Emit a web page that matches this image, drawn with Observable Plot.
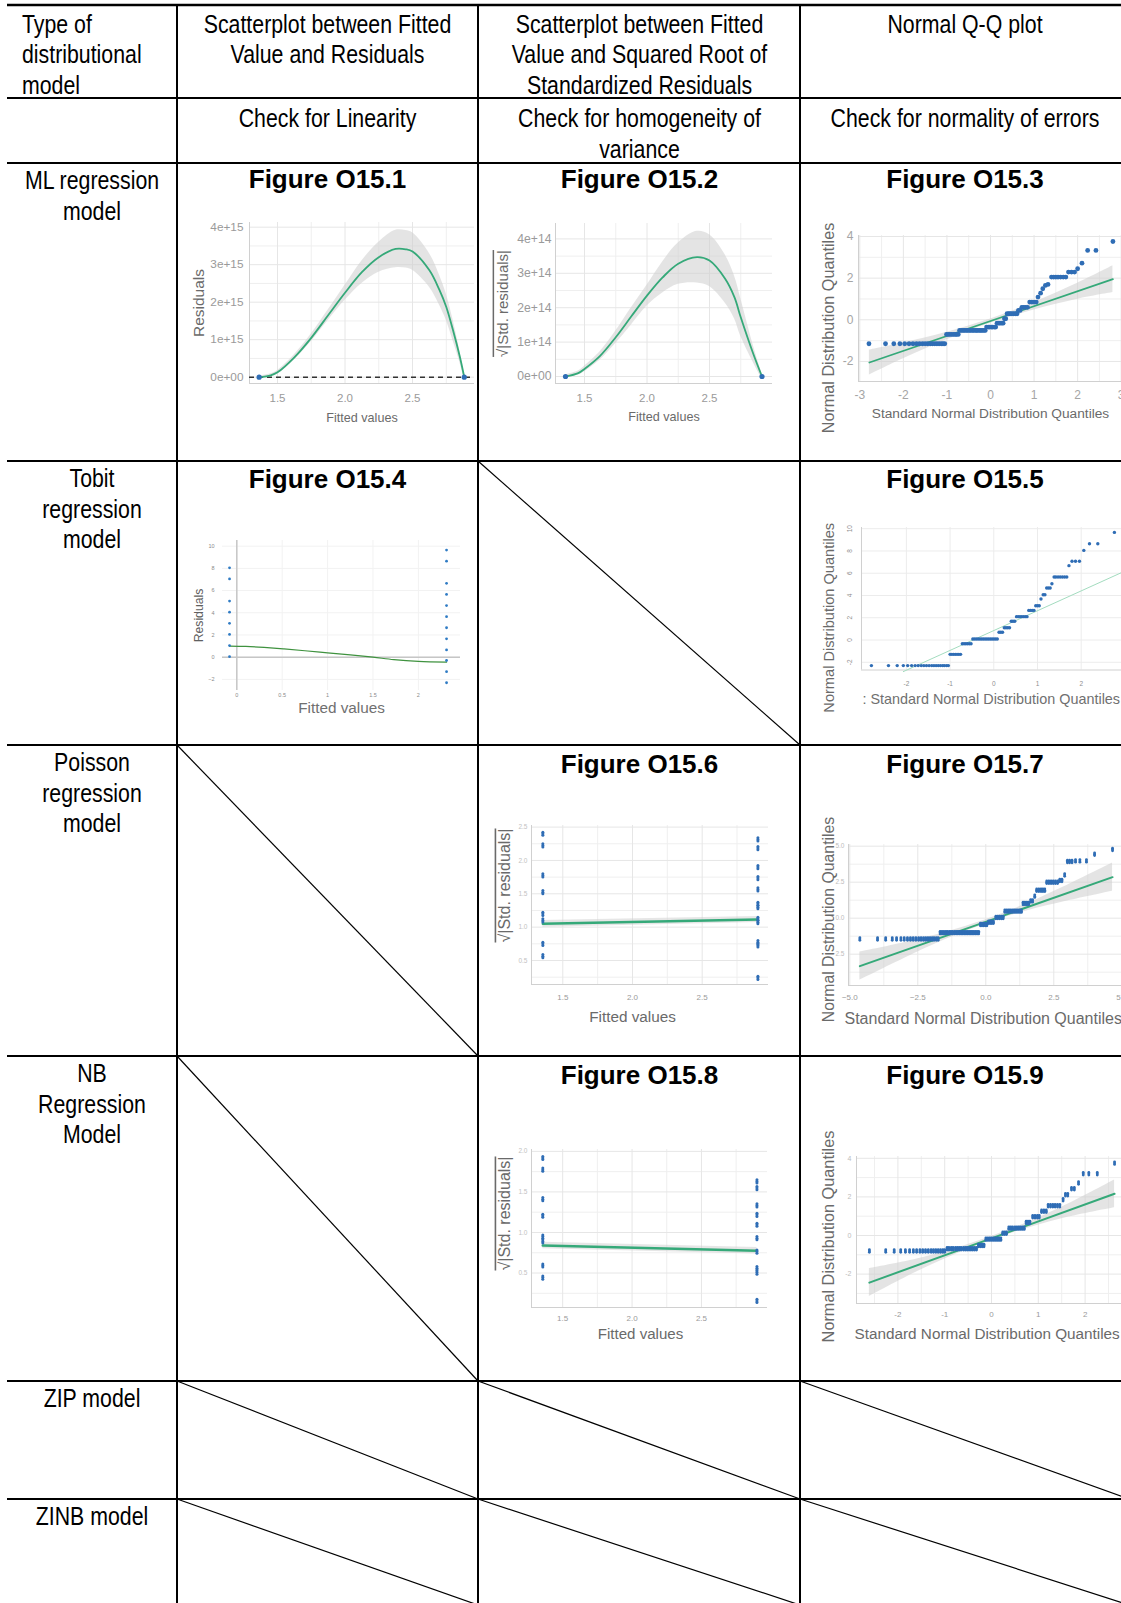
<!DOCTYPE html>
<html><head><meta charset="utf-8">
<script src="https://cdn.jsdelivr.net/npm/d3@7"></script>
<script src="https://cdn.jsdelivr.net/npm/@observablehq/plot@0.6"></script>
<style>
html,body{margin:0;padding:0;background:#fff;overflow:hidden;}
#page{position:relative;width:1121px;height:1603px;overflow:hidden;background:#fff;}
.fig{position:absolute;}
.fig svg{overflow:visible;}
</style></head><body><div id="page"></div>
<script>
// ================= DATA =================
const columnHeads = [["Type of","distributional","model"],["Scatterplot between Fitted","Value and Residuals"],["Scatterplot between Fitted","Value and Squared Root of","Standardized Residuals"],["Normal Q-Q plot"]];
const columnChecks = [[],["Check for Linearity"],["Check for homogeneity of","variance"],["Check for normality of errors"]];
const modelNames = [["ML regression","model"],["Tobit","regression","model"],["Poisson","regression","model"],["NB","Regression","Model"],["ZIP model"],["ZINB model"]];
const figureTitles = ["Figure O15.1","Figure O15.2","Figure O15.3","Figure O15.4","Figure O15.5","Figure O15.6","Figure O15.7","Figure O15.8","Figure O15.9"];

// O15.1 smooth (fitted vs residuals)
const f1x  = [1.364,1.45,1.5,1.625,1.75,1.875,2.0,2.125,2.25,2.375,2.45,2.5,2.625,2.7,2.75,2.8,2.85,2.883];
const f1y  = [0,0.05e15,0.13e15,0.53e15,1.05e15,1.65e15,2.25e15,2.8e15,3.2e15,3.42e15,3.41e15,3.35e15,2.85e15,2.32e15,1.87e15,1.25e15,0.55e15,0];
const f1lo = [-0.03e15,0.01e15,0.08e15,0.46e15,0.95e15,1.51e15,2.05e15,2.5e15,2.8e15,2.92e15,2.91e15,2.85e15,2.4e15,1.92e15,1.52e15,0.97e15,0.4e15,-0.05e15];
const f1hi = [0.03e15,0.09e15,0.18e15,0.6e15,1.15e15,1.79e15,2.45e15,3.1e15,3.6e15,3.92e15,3.91e15,3.85e15,3.3e15,2.72e15,2.22e15,1.53e15,0.7e15,0.05e15];
const p1x = [1.364,2.883], p1y = [0,0];
const f1xTicks = [1.5,2.0,2.5], f1yTicks = [0,1e15,2e15,3e15,4e15];

// O15.2 smooth (fitted vs sqrt std residuals)
const f2x  = [1.348,1.45,1.5,1.625,1.75,1.875,2.0,2.125,2.25,2.4,2.5,2.625,2.7,2.75,2.85,2.92];
const f2y  = [0,0.1e14,0.22e14,0.6e14,1.14e14,1.75e14,2.35e14,2.88e14,3.28e14,3.47e14,3.37e14,2.84e14,2.3e14,1.72e14,0.66e14,0];
const f2lo = [-0.05e14,0.04e14,0.14e14,0.48e14,0.96e14,1.5e14,2.05e14,2.43e14,2.68e14,2.72e14,2.62e14,2.14e14,1.68e14,1.17e14,0.41e14,-0.08e14];
const f2hi = [0.05e14,0.16e14,0.3e14,0.72e14,1.32e14,2.0e14,2.65e14,3.33e14,3.88e14,4.22e14,4.12e14,3.54e14,2.92e14,2.27e14,0.91e14,0.08e14];
const p2x = [1.348,2.92], p2y = [0,0];
const f2xTicks = [1.5,2.0,2.5], f2yTicks = [0,1e14,2e14,3e14,4e14];

// O15.3 Q-Q (runs: [sample quantile, theoretical quantiles])
const q3Runs = [
 [-1.15,[-2.79,-2.41,-2.22,-2.08,-1.97,-1.87,-1.78,-1.70,-1.63,-1.56,-1.50,-1.44,-1.38,-1.33,-1.28,-1.23,-1.18,-1.13,-1.09,-1.05]],
 [-0.70,[-1.01,-0.97,-0.93,-0.89,-0.85,-0.81,-0.78,-0.74]],
 [-0.51,[-0.71,-0.67,-0.63,-0.60,-0.56,-0.53,-0.49,-0.46,-0.42,-0.39,-0.35,-0.32,-0.29,-0.25,-0.22,-0.19,-0.15,-0.12]],
 [-0.35,[-0.09,-0.05,-0.02,0.02,0.05,0.09,0.12]],
 [-0.16,[0.15,0.19,0.22,0.26,0.29]],
 [0.05,[0.32,0.35]],
 [0.29,[0.38,0.42,0.45,0.49,0.53,0.57,0.61]],
 [0.45,[0.64,0.68]],
 [0.60,[0.72,0.76,0.80,0.85]],
 [0.85,[0.90,0.95,1.00,1.05]],
 [1.09,[1.09]],[1.28,[1.15]],[1.49,[1.20]],[1.65,[1.26]],[1.70,[1.32]],
 [2.05,[1.40,1.45,1.50,1.55,1.61,1.67,1.73]],
 [2.29,[1.79,1.86,1.93]],
 [2.45,[2.00]],[2.72,[2.10]],[3.33,[2.23,2.42]],[3.76,[2.81]]
];
const l3x = [-2.78,2.81], l3y = [-2.05,1.95];
const b3x = [-2.78,-2,-1,0,1,2,2.81];
const b3lo = [-2.65,-1.87,-0.956,-0.16,0.475,0.99,1.31];
const b3hi = [-1.45,-1.11,-0.596,0.04,0.835,1.75,2.59];
const q3xTicks = [-3,-2,-1,0,1,2,3], q3yTicks = [-2,0,2,4];

// O15.4 Tobit residuals
const r4leftX = -0.08, r4rightX = 2.31;
const r4left  = [8.05,7.05,5.05,4.05,3.05,2.05,1.05,0.05];
const r4right = [9.65,8.65,6.65,5.65,4.65,3.65,2.65,1.65,0.65,-0.3,-1.3,-2.3];
const s4x = [-0.08,0.1,0.3,0.52,0.75,1.0,1.25,1.5,1.73,2.0,2.31];
const s4y = [1.0,0.97,0.88,0.75,0.58,0.39,0.2,0.0,-0.22,-0.38,-0.45];
const r4xTicks = [0,0.5,1,1.5,2], r4yTicks = [-2,0,2,4,6,8,10];

// O15.5 Q-Q Tobit
const q5Runs = [
 [-2.3,[-2.8,-2.41,-2.21,-2.07,-1.97,-1.88,-1.8,-1.73,-1.66,-1.6,-1.54,-1.48,-1.42,-1.37,-1.32,-1.27,-1.22,-1.17,-1.13,-1.08,-1.04]],
 [-1.29,[-1.0,-0.96,-0.92,-0.88,-0.84,-0.8,-0.76]],
 [-0.33,[-0.72,-0.68,-0.64,-0.6,-0.56,-0.52]],
 [0.09,[-0.48,-0.44,-0.4,-0.36,-0.32,-0.28,-0.24,-0.2,-0.16,-0.12,-0.08,-0.04,0.0,0.04,0.08]],
 [0.69,[0.12,0.16,0.2]],
 [1.1,[0.24,0.28,0.32,0.36]],
 [1.68,[0.4,0.44,0.48]],
 [2.1,[0.52,0.56,0.6,0.64,0.68,0.72,0.76]],
 [2.66,[0.8,0.84,0.88,0.92]],
 [3.08,[0.96,1.0,1.04]],
 [3.68,[1.08]],[4.07,[1.13,1.17]],[4.67,[1.21,1.25,1.29]],[5.06,[1.33]],
 [5.66,[1.38,1.42,1.47,1.52,1.57,1.62,1.67]],
 [6.68,[1.72]],[7.07,[1.79,1.87,1.96]],[8.05,[2.06]],[8.65,[2.19,2.38]],[9.67,[2.76]]
];
const l5x = [-2.07,3.2], l5y = [-2.84,6.55];
const q5xTicks = [-2,-1,0,1,2], q5yTicks = [-2,0,2,4,6,8,10];

// O15.6 Poisson scale-location
const s6leftX = 1.357, s6rightX = 2.90;
const s6left  = [2.4,2.225,1.775,1.525,1.2,1.1,0.75,0.565];
const s6right = [2.315,2.185,1.9,1.735,1.565,1.35,1.3,1.125,1.075,0.775,0.725,0.24];
const l6x = [1.357,2.90], l6y = [1.05,1.115], l6lo = [1.0,1.07], l6hi = [1.1,1.16];
const s6xTicks = [1.5,2.0,2.5], s6yTicks = [0.5,1.0,1.5,2.0,2.5];

// O15.7 Q-Q Poisson
const q7Runs = [
 [-1.44,[-4.63,-3.98,-3.68,-3.44,-3.28,-3.12,-3.0,-2.88,-2.77,-2.67,-2.57,-2.47,-2.38,-2.29,-2.21,-2.13,-2.05,-1.97,-1.9,-1.82,-1.75]],
 [-1.0,[-1.68,-1.61,-1.54,-1.47,-1.41,-1.34,-1.28,-1.22,-1.15,-1.09,-1.03,-0.97,-0.91,-0.85,-0.79,-0.73,-0.67,-0.61,-0.55,-0.5,-0.44,-0.38,-0.32,-0.26]],
 [-0.44,[-0.2,-0.14,-0.08,-0.02,0.04]],
 [-0.28,[0.1,0.16,0.22,0.28]],
 [0.05,[0.37,0.44,0.51,0.58,0.64]],
 [0.49,[0.7,0.77,0.84,0.9,0.97,1.04,1.11,1.18,1.25,1.31]],
 [1.02,[1.37,1.44,1.51,1.58]],
 [1.2,[1.65,1.72]],[1.53,[1.8]],
 [1.94,[1.87,1.95,2.03,2.1,2.17]],
 [2.5,[2.24,2.32,2.4,2.48,2.56,2.64]],
 [2.62,[2.72,2.8]],[3.0,[2.9]],
 [3.94,[3.0,3.08,3.17]],[3.98,[3.3,3.46,3.7]],[4.44,[4.0]],[4.77,[4.66]]
];
const l7x = [-4.63,4.66], l7y = [-3.33,2.85];
const b7x = [-4.63,-3,-1.5,0,1.5,3,4.66];
const b7lo = [-4.31,-2.80,-1.50,-0.40,0.50,1.19,1.87];
const b7hi = [-2.35,-1.70,-1.00,-0.10,1.00,2.29,3.83];
const q7xTicks = [-5,-2.5,0,2.5,5], q7yTicks = [-2.5,0,2.5,5];

// O15.8 NB scale-location
const s8leftX = 1.357, s8rightX = 2.90;
const s8left  = [1.918,1.774,1.41,1.206,0.95,0.89,0.593,0.444];
const s8right = [1.63,1.547,1.333,1.218,1.095,0.93,0.765,0.56,0.506,0.156];
const l8x = [1.357,2.90], l8y = [0.84,0.774], l8lo = [0.8,0.735], l8hi = [0.88,0.815];
const s8xTicks = [1.5,2.0,2.5], s8yTicks = [0.5,1.0,1.5,2.0];

// O15.9 Q-Q NB
const q9Runs = [
 [-0.8,[-2.61,-2.26,-2.08,-1.94,-1.84,-1.75,-1.67,-1.6,-1.53,-1.47,-1.41,-1.35,-1.29,-1.24,-1.19,-1.14,-1.09,-1.04,-1.0]],
 [-0.69,[-0.95,-0.91,-0.86,-0.82,-0.77,-0.73,-0.69,-0.65,-0.6,-0.56,-0.52,-0.48,-0.44,-0.4,-0.36,-0.32]],
 [-0.52,[-0.28,-0.24,-0.2,-0.16]],
 [-0.19,[-0.12,-0.08,-0.04,0.0,0.04,0.08,0.12,0.16,0.2]],
 [0.12,[0.24,0.28,0.32]],
 [0.38,[0.37,0.41,0.45,0.5,0.54,0.58,0.62,0.66,0.7]],
 [0.67,[0.74,0.78,0.82]],
 [0.97,[0.88,0.93,0.98,1.02]],
 [1.26,[1.07,1.12,1.17]],
 [1.54,[1.21,1.26,1.31,1.36,1.41,1.46]],
 [1.85,[1.53]],[2.11,[1.58,1.63]],[2.42,[1.71,1.77]],[2.72,[1.86]],
 [3.2,[1.96,2.08,2.26]],[3.75,[2.63]]
];
const l9x = [-2.61,2.63], l9y = [-2.44,2.16];
const b9x = [-2.61,-1.5,-0.5,0.5,1.5,2.63];
const b9lo = [-3.16,-1.77,-0.71,0.17,0.87,1.44];
const b9hi = [-1.72,-1.17,-0.47,0.41,1.47,2.88];
const q9xTicks = [-2,-1,0,1,2], q9yTicks = [-2,0,2,4];

// ================= HELPERS =================
const page = document.getElementById("page");
const SANS = "'Liberation Sans', Arial, Helvetica, sans-serif";
const NARROW = "'Liberation Sans Narrow', 'Arial Narrow', sans-serif";
const hasNarrow = (() => {
  const c = document.createElement("canvas").getContext("2d");
  const s = "Scatterplot between Fitted";
  c.font = "40px monospace"; const a = c.measureText(s).width;
  c.font = "40px 'Liberation Sans Narrow', monospace"; const b = c.measureText(s).width;
  return Math.abs(a - b) > 1;
})();
const NARROWPLOT = hasNarrow ? NARROW : SANS;

const BLUE = "#2f6db5", GREEN = "#35a979", BAND = "#cdcdcd";
const GRID = "#e6e6e6", GRID2 = "#efefef", AXL = "#d0d0d0", TICK = "#9a9a9a", TTL = "#6a6a6a";

const zip = (xs, ...cols) => xs.map((x, i) => ({x, ...Object.fromEntries(cols.map(([k, a]) => [k, a[i]]))}));
const runs = (r) => r.flatMap(([y, xs]) => xs.map(x => ({x, y})));
const column = (x, ys) => ys.map(y => ({x, y}));

function addChart({L, T, R, B, xd, yd, marks}) {
  const mL = 110, mR = 20, mT = 20, mB = 70;
  const svg = Plot.plot({
    width: R - L + mL + mR, height: B - T + mT + mB,
    marginLeft: mL, marginRight: mR, marginTop: mT, marginBottom: mB,
    x: {domain: xd, axis: null}, y: {domain: yd, axis: null},
    style: {background: "transparent", overflow: "visible", fontFamily: SANS, maxWidth: "none"},
    marks
  });
  const div = document.createElement("div");
  div.className = "fig";
  div.style.left = (L - mL) + "px";
  div.style.top = (T - mT) + "px";
  div.appendChild(svg);
  page.appendChild(div);
  svg.querySelectorAll("text").forEach(t => {
    if (t.textContent.includes("Std. residuals")) t.style.textDecoration = "overline";
  });
  return svg;
}
const gX = (v, c = GRID) => Plot.ruleX(v, {stroke: c, strokeWidth: 1});
const gY = (v, c = GRID) => Plot.ruleY(v, {stroke: c, strokeWidth: 1});
const xTick = (v, fmt, dy, fs, o = {}) => Plot.text(v, {x: d => d, text: fmt, frameAnchor: "bottom", dy, fontSize: fs, fill: o.fill || TICK, fontFamily: o.ff || SANS, textAnchor: "middle", lineAnchor: "middle"});
const yTick = (v, fmt, dx, fs, o = {}) => Plot.text(v, {y: d => d, text: fmt, frameAnchor: "left", dx, fontSize: fs, fill: o.fill || TICK, fontFamily: o.ff || SANS, textAnchor: o.rotate ? "middle" : "end", rotate: o.rotate || 0, lineAnchor: "middle"});
const xTitle = (s, dx, dy, fs, o = {}) => Plot.text([s], {text: d => d, frameAnchor: o.start ? "bottom-left" : "bottom", textAnchor: o.start ? "start" : "middle", dx, dy, fontSize: fs, fill: o.fill || TTL, lineAnchor: "middle"});
const yTitle = (s, dx, dy, fs, o = {}) => Plot.text([s], {text: d => d, frameAnchor: "left", textAnchor: "middle", rotate: -90, dx, dy, fontSize: fs, fill: o.fill || TTL, lineAnchor: "middle"});
const f1d = d3.format(".1f");
const sci = (p) => d => d === 0 ? "0e+00" : (d / Math.pow(10, p)) + "e+" + p;
const hy = d => String(d);
const dash = (pts, r, gap) => [-gap, 0, gap].map(dy => Plot.dot(pts, {x: "x", y: "y", r, fill: BLUE, dy}));

// ================= CHARTS =================
// O15.1
{
  const xd = [1.2926, 2.959], yd = [-0.168e15, 4.125e15];
  const fit = zip(f1x, ["y", f1y], ["lo", f1lo], ["hi", f1hi]);
  addChart({L: 249, R: 474, T: 222, B: 383, xd, yd, marks: [
    gX([1.75, 2.25, 2.75], GRID2), gY([0.5e15, 1.5e15, 2.5e15, 3.5e15], GRID2),
    gX(f1xTicks), gY(f1yTicks),
    Plot.ruleX([xd[0]], {stroke: AXL}), Plot.ruleY([yd[0]], {stroke: AXL}),
    Plot.areaY(fit, {x: "x", y1: "lo", y2: "hi", fill: BAND, fillOpacity: 0.55, curve: "catmull-rom"}),
    Plot.ruleY([0], {stroke: "#333", strokeDasharray: "5,4", strokeWidth: 1.4}),
    Plot.line(fit, {x: "x", y: "y", stroke: GREEN, strokeWidth: 1.8, curve: "catmull-rom"}),
    Plot.dot(zip(p1x, ["y", p1y]), {x: "x", y: "y", r: 2.6, fill: BLUE}),
    xTick(f1xTicks, f1d, 15, 11.5), yTick(f1yTicks, sci(15), -6, 11.8),
    xTitle("Fitted values", 0, 34, 12.6), yTitle("Residuals", -50, 0, 15.5)
  ]});
}
// O15.2
{
  const xd = [1.268, 3.004], yd = [-0.2035e14, 4.448e14];
  const fit = zip(f2x, ["y", f2y], ["lo", f2lo], ["hi", f2hi]);
  addChart({L: 555, R: 772, T: 223, B: 383, xd, yd, marks: [
    gX([1.75, 2.25, 2.75], GRID2), gY([0.5e14, 1.5e14, 2.5e14, 3.5e14], GRID2),
    gX(f2xTicks), gY(f2yTicks),
    Plot.ruleX([xd[0]], {stroke: AXL}), Plot.ruleY([yd[0]], {stroke: AXL}),
    Plot.areaY(fit, {x: "x", y1: "lo", y2: "hi", fill: BAND, fillOpacity: 0.55, curve: "catmull-rom"}),
    Plot.line(fit, {x: "x", y: "y", stroke: GREEN, strokeWidth: 1.8, curve: "catmull-rom"}),
    Plot.dot(zip(p2x, ["y", p2y]), {x: "x", y: "y", r: 2.6, fill: BLUE}),
    xTick(f2xTicks, f1d, 15.3, 11.5), yTick(f2yTicks, sci(14), -4, 12.2),
    xTitle("Fitted values", 0, 33.7, 12.6), yTitle("√|Std. residuals|", -52.7, 0, 15)
  ]});
}
// O15.3
{
  const xd = [-3.03, 3.03], yd = [-2.962, 4.047];
  addChart({L: 858, R: 1122, T: 235, B: 381, xd, yd, marks: [
    gX([-2.5, -1.5, -0.5, 0.5, 1.5, 2.5], GRID2), gY([-1, 1, 3], GRID2),
    gX(q3xTicks), gY(q3yTicks),
    Plot.ruleX([xd[0]], {stroke: AXL}), Plot.ruleY([yd[0]], {stroke: AXL}),
    Plot.areaY(zip(b3x, ["lo", b3lo], ["hi", b3hi]), {x: "x", y1: "lo", y2: "hi", fill: BAND, fillOpacity: 0.55, curve: "catmull-rom"}),
    Plot.line(zip(l3x, ["y", l3y]), {x: "x", y: "y", stroke: GREEN, strokeWidth: 1.8}),
    Plot.dot(runs(q3Runs), {x: "x", y: "y", r: 2.4, fill: BLUE}),
    xTick(q3xTicks, hy, 14, 12, {fill: "#a5a5a5"}), yTick(q3yTicks, hy, -5, 12, {fill: "#a5a5a5"}),
    xTitle("Standard Normal Distribution Quantiles", 0, 32, 13.7), yTitle("Normal Distribution Quantiles", -30, 19.5, 16.2)
  ]});
}
// O15.4
{
  const xd = [-0.1575, 2.4637], yd = [-3.0, 10.51];
  addChart({L: 222, R: 460, T: 540, B: 690, xd, yd, marks: [
    gX(r4xTicks, "#f2f2f2"), gY(r4yTicks, "#f2f2f2"),
    Plot.ruleX([0], {stroke: "#c6c6c6", strokeWidth: 1.5}), Plot.ruleY([0], {stroke: "#c6c6c6", strokeWidth: 1.5}),
    Plot.line(zip(s4x, ["y", s4y]), {x: "x", y: "y", stroke: "#3f923f", strokeWidth: 1.2, curve: "catmull-rom"}),
    Plot.dot(column(r4leftX, r4left).concat(column(r4rightX, r4right)), {x: "x", y: "y", r: 1.4, fill: "#2f7bc4"}),
    xTick(r4xTicks, hy, 5, 5.5, {fill: "#8a8a8a"}),
    yTick(r4yTicks, d => d < 0 ? "−" + (-d) : String(d), -8, 5.5, {fill: "#8a8a8a"}),
    xTitle("Fitted values", 0, 18, 15.3, {fill: "#707070"}), yTitle("Residuals", -23.3, 0, 12.2, {fill: "#606060"})
  ]});
}
// O15.5
{
  const xd = [-3.027, 3.357], yd = [-2.695, 10.108];
  addChart({L: 861, R: 1140, T: 526.5, B: 669, xd, yd, marks: [
    gX(q5xTicks, "#ececec"), gY(q5yTicks, "#ececec"),
    Plot.ruleX([xd[0]], {stroke: AXL}), Plot.ruleY([yd[0]], {stroke: AXL}),
    Plot.line(zip(l5x, ["y", l5y]), {x: "x", y: "y", stroke: "#a3dcbf", strokeWidth: 1}),
    Plot.dot(runs(q5Runs), {x: "x", y: "y", r: 1.7, fill: BLUE}),
    xTick(q5xTicks, hy, 14, 6.5, {fill: "#8f8f8f"}),
    yTick(q5yTicks, hy, -12, 6.5, {fill: "#8f8f8f", rotate: -90}),
    xTitle(": Standard Normal Distribution Quantiles", 1, 29, 14.4, {start: true, fill: "#707070"}),
    yTitle("Normal Distribution Quantiles", -32, 19, 14.6)
  ]});
}
// O15.6
{
  const xd = [1.2755, 2.976], yd = [0.14, 2.524];
  const pts = column(s6leftX, s6left).concat(column(s6rightX, s6right));
  addChart({L: 531, R: 768, T: 825, B: 984, xd, yd, marks: [
    gX([1.75, 2.25, 2.75], GRID2), gY([0.25, 0.75, 1.25, 1.75, 2.25], GRID2),
    gX(s6xTicks), gY(s6yTicks),
    Plot.ruleX([xd[0]], {stroke: AXL}), Plot.ruleY([yd[0]], {stroke: AXL}),
    Plot.areaY(zip(l6x, ["lo", l6lo], ["hi", l6hi]), {x: "x", y1: "lo", y2: "hi", fill: BAND, fillOpacity: 0.5}),
    Plot.line(zip(l6x, ["y", l6y]), {x: "x", y: "y", stroke: GREEN, strokeWidth: 2.6}),
    ...dash(pts, 1.5, 1.6),
    xTick(s6xTicks, f1d, 13, 8, {ff: NARROWPLOT}),
    yTick(s6yTicks, f1d, -4, 6.5, {ff: NARROWPLOT, fill: "#c2c2c2"}),
    xTitle("Fitted values", -17.5, 33, 15.3), yTitle("√|Std. residuals|", -27, -19.5, 16)
  ]});
}
// O15.7
{
  const xd = [-5.048, 5.688], yd = [-4.674, 5.118];
  addChart({L: 848, R: 1140, T: 844, B: 985, xd, yd, marks: [
    gX([-3.75, -1.25, 1.25, 3.75], GRID2), gY([-3.75, -1.25, 1.25, 3.75], GRID2),
    gX(q7xTicks), gY(q7yTicks),
    Plot.ruleX([xd[0]], {stroke: AXL}), Plot.ruleY([yd[0]], {stroke: AXL}),
    Plot.areaY(zip(b7x, ["lo", b7lo], ["hi", b7hi]), {x: "x", y1: "lo", y2: "hi", fill: BAND, fillOpacity: 0.55, curve: "catmull-rom"}),
    Plot.line(zip(l7x, ["y", l7y]), {x: "x", y: "y", stroke: GREEN, strokeWidth: 2}),
    ...dash(runs(q7Runs), 1.4, 1.3),
    xTick(q7xTicks, f1d, 12, 8, {ff: NARROWPLOT}),
    yTick(q7yTicks, f1d, -4, 6.5, {ff: NARROWPLOT, fill: "#bdbdbd"}),
    xTitle("Standard Normal Distribution Quantiles", -4, 33, 16, {start: true}),
    yTitle("Normal Distribution Quantiles", -20, 4.5, 15.8)
  ]});
}
// O15.8
{
  const xd = [1.2755, 2.976], yd = [0.075, 2.023];
  const pts = column(s8leftX, s8left).concat(column(s8rightX, s8right));
  addChart({L: 531, R: 767, T: 1149, B: 1307, xd, yd, marks: [
    gX([1.75, 2.25, 2.75], GRID2), gY([0.25, 0.75, 1.25, 1.75], GRID2),
    gX(s8xTicks), gY(s8yTicks),
    Plot.ruleX([xd[0]], {stroke: AXL}), Plot.ruleY([yd[0]], {stroke: AXL}),
    Plot.areaY(zip(l8x, ["lo", l8lo], ["hi", l8hi]), {x: "x", y1: "lo", y2: "hi", fill: BAND, fillOpacity: 0.5}),
    Plot.line(zip(l8x, ["y", l8y]), {x: "x", y: "y", stroke: GREEN, strokeWidth: 2.6}),
    ...dash(pts, 1.5, 1.6),
    xTick(s8xTicks, f1d, 10.7, 8, {ff: NARROWPLOT}),
    yTick(s8yTicks, f1d, -4, 6.5, {ff: NARROWPLOT, fill: "#c2c2c2"}),
    xTitle("Fitted values", -9, 27, 15.1), yTitle("√|Std. residuals|", -27, -15, 16)
  ]});
}
// O15.9
{
  const xd = [-2.885, 3.184], yd = [-3.523, 4.093];
  addChart({L: 856, R: 1140, T: 1156, B: 1303, xd, yd, marks: [
    gX([-2.5, -1.5, -0.5, 0.5, 1.5, 2.5], GRID2), gY([-3, -1, 1, 3], GRID2),
    gX(q9xTicks), gY(q9yTicks),
    Plot.ruleX([xd[0]], {stroke: AXL}), Plot.ruleY([yd[0]], {stroke: AXL}),
    Plot.areaY(zip(b9x, ["lo", b9lo], ["hi", b9hi]), {x: "x", y1: "lo", y2: "hi", fill: BAND, fillOpacity: 0.55, curve: "catmull-rom"}),
    Plot.line(zip(l9x, ["y", l9y]), {x: "x", y: "y", stroke: GREEN, strokeWidth: 2}),
    ...dash(runs(q9Runs), 1.4, 1.3),
    xTick(q9xTicks, hy, 11, 8, {ff: NARROWPLOT}),
    yTick(q9yTicks, hy, -5, 7, {ff: NARROWPLOT, fill: "#bdbdbd"}),
    xTitle("Standard Normal Distribution Quantiles", -2, 31, 15.3, {start: true}),
    yTitle("Normal Distribution Quantiles", -28, 6.5, 16.3)
  ]});
}

// ================= TABLE =================
{
  const NS = "http://www.w3.org/2000/svg";
  const svg = document.createElementNS(NS, "svg");
  svg.setAttribute("width", 1121); svg.setAttribute("height", 1603);
  svg.style.position = "absolute"; svg.style.left = "0"; svg.style.top = "0";
  const add = (name, attrs, text) => {
    const e = document.createElementNS(NS, name);
    for (const k in attrs) e.setAttribute(k, attrs[k]);
    if (text != null) e.textContent = text;
    svg.appendChild(e); return e;
  };
  const colX = [7, 177, 478, 800, 1129];
  const rowY = [5, 98, 163, 461, 745, 1056, 1381, 1499, 1605];
  const ln = (x1, y1, x2, y2, w) => add("line", {x1, y1, x2, y2, stroke: "#000", "stroke-width": w});
  rowY.slice(0, 8).forEach((y, i) => ln(colX[0], y, colX[4], y, i === 0 ? 2.6 : 2));
  [1, 2, 3].forEach(c => ln(colX[c], rowY[0], colX[c], rowY[8], 2));
  const empty = [[3, 2], [4, 1], [5, 1], [6, 1], [6, 2], [6, 3], [7, 1], [7, 2], [7, 3]];
  empty.forEach(([r, c]) => ln(colX[c], rowY[r], colX[c + 1], rowY[r + 1], 1.2));

  const txt = (s, x, y, {anchor = "middle", size = 26, narrow = true, bold = false} = {}) => {
    const a = {"text-anchor": anchor, "font-size": size, fill: "#000"};
    if (bold) a["font-weight"] = "bold";
    if (narrow && !hasNarrow) { a["font-family"] = SANS; a.transform = `translate(${x},${y}) scale(0.82,1)`; }
    else { a["font-family"] = narrow ? NARROW : SANS; a.x = x; a.y = y; }
    add("text", a, s);
  };
  const colCenter = [92, 327.5, 639.5, 965];
  const LH = 30.5;
  columnHeads.forEach((lines, c) => lines.forEach((s, i) => {
    if (c === 0) txt(s, 22, 32.5 + i * LH, {anchor: "start"});
    else txt(s, colCenter[c], 32.5 + i * LH);
  }));
  columnChecks.forEach((lines, c) => lines.forEach((s, i) => txt(s, colCenter[c], 127 + i * LH)));
  modelNames.forEach((lines, r) => lines.forEach((s, i) => txt(s, colCenter[0], rowY[r + 2] + 26 + i * LH)));
  const figCells = [[0, 1], [0, 2], [0, 3], [1, 1], [1, 3], [2, 2], [2, 3], [3, 2], [3, 3]];
  const titleOff = [25, 26.5, 28, 28];
  figureTitles.forEach((s, k) => {
    const [r, c] = figCells[k];
    txt(s, colCenter[c], rowY[r + 2] + titleOff[r], {narrow: false, bold: true, size: 26});
  });
  page.appendChild(svg);
}
</script></body></html>
